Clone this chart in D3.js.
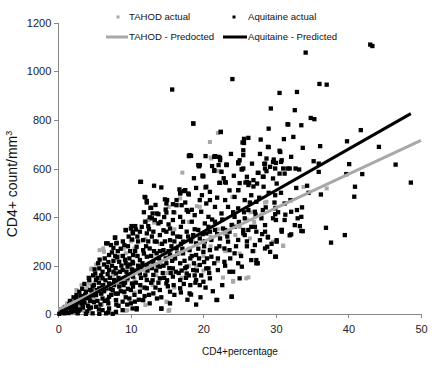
<!DOCTYPE html>
<html lang="en">
<head>
  <meta charset="UTF-8">
  <title>CD4+ count vs CD4+ percentage</title>
  <script src="https://d3js.org/d3.v7.min.js"></script>
  <style>
    body {
      margin: 0;
      background: #fff;
      font-family: "Liberation Sans", Arial, sans-serif;
    }
    .axis path, .axis line {
      stroke: #868686;
      shape-rendering: crispEdges;
    }
    .axis text {
      font-size: 11px;
      fill: #222;
    }
    .legend text {
      font-size: 9.6px;
      fill: #111;
    }
  </style>
</head>
<body>
  <div id="chart"></div>

  <script>
    // axis ticks
    const xTicks = [0, 10, 20, 30, 40, 50];
    const yTicks = [0, 200, 400, 600, 800, 1000, 1200];

    // regression lines (end points)
    const tahodLineX = [0, 50];
    const tahodLineY = [20, 716];
    const aquitaineLineX = [0, 48.6];
    const aquitaineLineY = [0, 826];

    // TAHOD actual (grey), [CD4 %, CD4 count]
    const tahodPoints = [
      [20.9,709],[22.0,746],[17.1,583],[21.1,641],[21.0,645],[22.4,590],[22.1,590],[24.0,483],[24.1,483],
      [19.5,442],[28.5,460],[28.7,463],[37.0,518],[33.8,524],[31.0,281],[31.0,283],[25.9,148],[24.1,134],
      [22.7,151],[26.2,152],[24.1,138],[15.2,14],[15.0,51],[12.0,38],[9.3,15],[9.5,17],[5.7,264],[6.2,271],
      [6.3,257],[4.6,189],[4.5,185],[13.2,377],[12.4,388],[12.1,381],[11.9,381],[16.8,477],[19.1,445],
      [15.2,442],[16.1,418],[24.4,326],[26.4,312],[29.6,299],[9.3,251],[4.27,127],[4.3,130],[9.1,86],
      [1,10],[1.5,25],[2,20],[2.5,40],[3,35],[3.5,55],[4,45],[4.5,70],[5,60],[5.5,90],[6,85],[6.5,100],
      [7,110],[7.5,95],[8,130],[8.5,120],[9,150],[9.5,140],[10,160],[10.5,145],[11,175],[11.5,190],
      [12,170],[12.5,210],[13,200],[13.5,230],[14,215],[14.5,250],[15,240],[15.5,260],[16,230],[16.5,280],
      [17,250],[17.5,300],[18,270],[18.5,310],[19,290],[19.5,330],[20,300],[21,320],[22,350],[23,330],
      [24,370],[25,360],[26,390],[27,380],[28,410],[2,55],[3,80],[3.5,15],[5,130],[6,40],[7,190],[8,60],
      [8.5,240],[9,270],[10,300],[10.5,90],[11,240],[12,310],[13,120],[14,290],[15,170],[16,350],[17,150],
      [18,380],[19,200],[20,240],[21,280],[23,260],[25,250],[2.5,100],[4,110],[6,150],[7.5,160],[11.5,110],
      [13.5,160],[16,110],[18,200],[20,180],[22,220],[27,260],[30,440],[26.5,420],[10.3,305],[14.9,52],
      [15.3,18],[10.5,271],[8.2,225],[5.2,205],[3.2,120],[1.2,45],[0.6,15]
    ];

    // Aquitaine actual (black), [CD4 %, CD4 count]
    const aquitainePoints = [
      // sparse upper points
      [43.0,1110],[43.3,1104],[34.1,1077],[24.0,968],[15.7,925],[36.0,948],[37.0,945],[30.5,911],[32.9,915],
      [29.3,847],[32.6,840],[18.6,785],[31.7,781],[33.5,778],[34.8,808],[35.3,803],[41.7,758],[22.4,751],
      [29.0,764],[32.4,730],[31.1,721],[25.6,722],[26.2,726],[27.9,719],[39.8,712],[44.2,689],[36.1,692],
      [33.7,685],[29.0,688],[25.4,707],[30.5,673],[32.1,648],[18.3,652],[20.3,651],[21.5,648],[22.1,648],
      [25.0,634],[35.2,630],[30.7,627],[30.0,623],[28.4,619],[29.7,637],[40.1,618],[46.5,616],[19.3,614],
      [23.2,615],[24.8,623],[31.0,600],[31.9,600],[32.7,600],[33.2,596],[41.9,577],[39.7,577],[35.9,586],
      [35.9,620],[25.3,597],[21.5,590],[19.9,571],[27.6,582],[28.7,589],[28.3,566],[26.0,566],[26.3,541],
      [26.9,552],[25.8,542],[23.0,544],[22.2,541],[20.3,522],[48.6,542],[36.2,493],[34.3,529],[40.9,525],
      [40.8,484],[26.9,526],[24.8,511],[30.1,538],[11.4,545],[13.2,529],[14.2,522],[16.7,514],[17.3,507],
      [16.8,500],[18.0,493],[15.8,453],[15.0,470],[12.0,481],[12.2,466],[12.8,438],[13.0,415],[14.9,419],
      [13.6,415],[12.9,395],[13.8,374],[12.0,381],[10.6,363],[9.3,347],[10.0,353],[6.8,292],[7.8,315],
      [8.0,292],[7.6,273],[36.9,356],[37.6,295],[39.5,326],[33.3,363],[33.7,342],[30.0,237],[28.9,316],
      [28.8,278],[27.5,210],[27.3,223],[23.9,73],[21.9,59],[18.3,81],[14.2,23],[10.8,25],[30.1,305],
      [30.8,347],[31.9,325],[32.9,429],[33.0,395],[33.5,401],[29.9,412],[30.0,388],
      // x 0-11, lower-left cluster
      [7.85,316],[6.6,292],[7.26,285],[8.04,294],[10.15,308],[10.24,340],[7.0,244],[7.85,240],[7.6,220],
      [8.4,216],[9.3,210],[10.24,216],[5.65,189],[5.1,168],[6.1,175],[7.0,182],[7.95,168],[8.87,182],
      [9.55,196],[10.15,185],[4.27,141],[5.2,141],[6.1,148],[7.0,127],[7.7,141],[8.64,134],[9.55,148],
      [10.15,127],[4.73,114],[5.65,107],[6.6,107],[7.5,100],[8.4,114],[9.1,93],[10.0,100],[2.9,93],
      [3.8,93],[4.27,72],[5.2,79],[6.1,65],[7.0,72],[7.95,58],[8.87,52],[9.8,65],[3.36,58],[2.44,65],
      [1.52,42],[2.44,31],[3.36,38],[4.27,24],[5.2,31],[6.1,17],[7.0,24],[7.95,10],[8.87,17],[10.24,24],
      [0.14,2],[0.83,4],[1.75,10],[2.67,4],[3.8,2],[4.73,4],[5.65,2],[6.6,4],[7.5,2],[0.5,8],[1.1,18],
      [1.8,25],[2.2,12],[3.0,20],[3.6,48],[4.0,12],[4.9,50],[5.8,40],[6.4,55],[6.9,45],[7.3,80],[8.2,85],
      [9.0,120],[9.7,160],[8.2,260],[9.6,280],[6.4,230],[5.5,210],[4.8,160],[3.1,75],[2.0,48],[1.3,30],
      [9.3,346],[10.1,363],[10.7,349],[8.9,300],[9.9,260],[6.2,120],[4.6,95],[3.0,60],[1.0,12],
      [1.4,5],[1.7,35],[2.3,22],[2.6,50],[2.8,14],[3.2,45],[3.4,28],[3.9,66],[3.7,80],[4.1,35],[4.4,55],
      [4.4,100],[4.8,78],[4.9,120],[5.3,100],[5.4,55],[5.6,130],[5.9,85],[5.9,160],[6.3,95],[6.5,140],
      [6.7,195],[6.8,60],[7.1,150],[7.2,105],[7.4,200],[7.7,120],[7.9,85],[7.9,190],[8.3,150],[8.3,35],
      [8.6,95],[8.7,200],[8.9,240],[9.2,130],[9.3,70],[9.4,175],[9.6,105],[9.8,230],[10.0,45],
      [0.4,20],[0.9,30],[1.6,55],[2.1,70],[2.5,80],[3.3,105],[3.6,125],[4.2,150],[5.0,185],[5.7,225],
      [6.3,205],[6.9,215],[7.4,255],[8.1,235],[8.6,270],[9.1,285],[9.7,320],[5.4,150],[6.0,110],
      [6.8,165],[7.6,175],[8.5,175],[9.2,225],[9.9,205],[4.5,28],[5.6,20],[6.9,8],[8.0,40],[9.5,40],
      // x 10-21, middle cluster
      [10.3,333],[11.25,340],[12.2,333],[13.1,340],[14.0,326],[14.9,340],[15.8,333],[16.8,319],[17.7,340],
      [18.6,326],[19.5,312],[20.4,333],[11.7,305],[13.55,299],[15.4,305],[17.2,299],[19.0,292],[10.8,278],
      [11.7,264],[12.6,271],[13.55,251],[14.5,264],[15.4,244],[16.3,271],[17.2,251],[18.1,264],[19.0,244],
      [20.0,257],[10.3,244],[12.2,237],[10.3,210],[11.25,223],[12.2,203],[13.1,216],[14.0,196],[14.9,210],
      [15.8,189],[16.8,210],[17.7,196],[18.6,182],[19.5,203],[20.4,189],[10.3,155],[11.25,168],[12.2,141],
      [13.1,162],[14.0,148],[14.9,127],[15.8,155],[16.8,141],[17.7,168],[19.0,141],[20.0,134],[10.3,114],
      [11.25,93],[12.2,107],[13.1,86],[14.0,100],[15.4,93],[16.8,107],[18.1,86],[19.5,120],[10.55,52],
      [10.8,20],[11.7,58],[12.6,45],[14.2,24],[15.4,45],[11.3,545],[18.0,651],[11.9,483],[12.2,460],
      [12.7,438],[16.8,497],[17.5,511],[14.7,473],[14.9,456],[14.8,431],[16.3,449],[17.0,449],[13.8,412],
      [12.6,399],[13.3,388],[16.8,401],[17.7,429],[12.4,363],[14.5,346],[15.4,353],[15.8,388],[17.2,381],
      [11.0,300],[12.9,320],[14.3,290],[16.0,300],[18.3,300],[11.4,195],[13.5,180],[16.2,175],[18.2,230],
      [12.8,130],[15.1,115],[17.3,125],[11.9,75],[13.6,65],[16.0,80],[19.6,70],
      [10.4,180],[10.5,80],[10.7,130],[10.9,240],[11.1,60],[11.4,150],[11.6,210],[11.9,110],[12.1,280],
      [12.3,180],[12.5,80],[12.8,240],[13.0,140],[13.3,300],[13.4,110],[13.7,200],[14.0,260],[14.2,70],
      [14.4,170],[14.7,300],[14.8,230],[15.0,140],[15.3,190],[15.6,280],[15.9,120],[16.1,230],[16.4,320],
      [16.6,170],[16.9,90],[17.1,270],[17.4,220],[17.6,150],[17.9,320],[18.2,120],[18.4,240],[18.8,350],
      [19.1,180],[19.3,270],[19.7,160],[19.9,330],[20.2,300],[20.5,230],[20.8,170],
      [10.9,320],[11.5,360],[11.8,420],[12.5,350],[13.4,450],[14.1,380],[14.6,400],[15.2,370],[15.9,420],
      [16.3,470],[16.9,360],[17.5,460],[18.4,430],[19.0,520],[19.8,490],[18.7,560],
      [10.6,260],[11.0,200],[11.8,250],[12.4,300],[12.9,190],[13.2,260],[13.9,230],[14.5,200],[15.2,260],
      [15.7,220],[16.4,250],[16.9,290],[17.5,190],[18.0,160],[18.7,210],[19.4,230],[20.1,280],
      [11.3,120],[12.0,160],[13.8,130],[14.6,150],[15.5,170],[17.0,180],[18.9,130],
      // x 17-33, upper-middle cluster
      [25.6,705],[28.9,689],[30.6,668],[25.5,655],[28.7,641],[29.6,627],[30.8,634],[29.2,607],[18.1,655],
      [21.6,650],[22.3,634],[23.2,616],[19.5,614],[22.1,614],[24.8,621],[25.3,596],[27.5,582],[28.5,600],
      [29.9,600],[28.2,566],[29.6,559],[31.2,579],[20.0,568],[22.3,541],[23.1,542],[26.0,545],[26.2,532],
      [27.4,538],[28.3,525],[24.8,511],[17.9,497],[20.4,525],[20.9,504],[23.0,470],[24.3,483],[25.7,470],
      [26.6,490],[27.3,463],[29.9,490],[19.5,470],[20.4,456],[21.6,442],[23.4,442],[24.8,436],[26.2,429],
      [27.1,422],[28.2,429],[29.9,436],[31.2,456],[32.1,422],[17.9,422],[18.8,408],[19.7,422],[20.7,401],
      [22.5,415],[24.3,401],[25.7,395],[28.0,395],[29.6,395],[31.2,388],[18.4,381],[20.2,374],[21.6,381],
      [23.9,367],[26.6,360],[28.5,367],[30.8,347],[32.6,367],[19.3,347],[20.9,340],[23.0,347],[25.5,333],
      [27.3,340],[18.6,785],[22.4,750],[31.6,782],[21.6,651],[22.3,644],[25.5,675],[24.8,625],[25.5,600],
      [19.4,609],[23.2,614],[28.5,620],[30.5,579],[31.6,600],[19.9,568],[21.5,593],[22.5,586],
      [20.9,470],[21.9,480],[23.6,510],[22.8,560],[24.2,570],[25.0,540],[21.2,610],[23.8,660],[26.7,620],
      [27.8,660],
      // x 20-35, lower-middle cluster
      [20.7,360],[21.6,347],[22.7,353],[23.6,340],[24.3,360],[25.5,347],[26.2,347],[27.1,360],[28.5,340],
      [28.9,319],[30.8,340],[32.1,329],[33.5,343],[21.1,306],[22.3,312],[23.4,299],[24.8,306],[25.7,326],
      [27.1,285],[28.5,271],[29.2,257],[30.1,299],[29.9,237],[20.9,264],[21.8,271],[22.9,271],[23.6,264],
      [24.3,251],[21.1,237],[22.0,230],[22.9,216],[24.8,210],[25.3,196],[26.6,223],[27.3,210],[20.7,189],
      [22.0,182],[23.6,175],[24.1,175],[25.0,148],[20.9,148],[21.8,59],[23.9,72],[20.3,110],[21.3,95],
      [22.6,120],[19.0,40],[17.8,60],[18.8,160],[20.1,215],[26.0,280],[27.8,305],
      [21.2,390],[21.5,210],[21.9,330],[22.2,280],[22.6,390],[23.0,200],[23.3,320],[23.7,230],[24.1,420],
      [24.5,280],[24.9,380],[25.2,240],[25.6,420],[26.0,300],[26.4,460],[26.8,260],[27.2,410],[27.7,480],
      [28.1,330],[28.6,440],[29.0,500],[29.4,290],[29.8,460],[30.3,420],[30.7,500],[31.3,410],[32.0,470],
      [32.8,520],[33.6,440],[34.5,500]
    ];

    const width = 436;
    const height = 392;

    const svg = d3.select("#chart")
      .append("svg")
      .attr("width", width)
      .attr("height", height)
      .style("background", "#fff");

    // scales
    const x = d3.scaleLinear().domain([0, 50]).range([58.3, 421]);
    const y = d3.scaleLinear().domain([0, 1200]).range([314.3, 22.7]);

    // axes
    svg.append("g")
      .attr("class", "axis")
      .attr("transform", `translate(${x(0)},0)`)
      .call(d3.axisLeft(y).tickValues(yTicks).tickFormat(d3.format("d"))
        .tickSize(4).tickSizeOuter(0).tickPadding(3));

    svg.append("g")
      .attr("class", "axis")
      .attr("transform", `translate(0,${y(0)})`)
      .call(d3.axisBottom(x).tickValues(xTicks).tickFormat(d3.format("d"))
        .tickSize(4).tickSizeOuter(0).tickPadding(7));

    // axis titles
    svg.append("text")
      .attr("transform", `translate(17,184) rotate(-90)`)
      .attr("text-anchor", "middle")
      .attr("font-size", 14)
      .attr("fill", "#111")
      .html("CD4+ count/mm<tspan dy='-5' font-size='9'>3</tspan>");

    svg.append("text")
      .attr("x", 240)
      .attr("y", 355)
      .attr("text-anchor", "middle")
      .attr("font-size", 10)
      .attr("fill", "#111")
      .text("CD4+percentage");

    // grey points first, black drawn on top
    const greySize = 4;
    svg.append("g")
      .selectAll("rect")
      .data(tahodPoints)
      .enter().append("rect")
      .attr("x", d => x(d[0]) - greySize / 2)
      .attr("y", d => y(d[1]) - greySize / 2)
      .attr("width", greySize)
      .attr("height", greySize)
      .attr("fill", "#a8a8a8");

    const blackSize = 4.3;
    svg.append("g")
      .selectAll("rect")
      .data(aquitainePoints)
      .enter().append("rect")
      .attr("x", d => x(d[0]) - blackSize / 2)
      .attr("y", d => y(d[1]) - blackSize / 2)
      .attr("width", blackSize)
      .attr("height", blackSize)
      .attr("fill", "#000");

    // predicted lines
    const line = d3.line().x(d => x(d[0])).y(d => y(d[1]));
    svg.append("path")
      .datum(tahodLineX.map((v, i) => [v, tahodLineY[i]]))
      .attr("d", line)
      .attr("fill", "none")
      .attr("stroke", "#a8a8a8")
      .attr("stroke-width", 3);
    svg.append("path")
      .datum(aquitaineLineX.map((v, i) => [v, aquitaineLineY[i]]))
      .attr("d", line)
      .attr("fill", "none")
      .attr("stroke", "#000")
      .attr("stroke-width", 3);

    // legend
    const legend = svg.append("g").attr("class", "legend");
    legend.append("rect").attr("x", 116.5).attr("y", 15.5).attr("width", 3).attr("height", 3).attr("fill", "#a8a8a8");
    legend.append("text").attr("x", 129).attr("y", 17).attr("dy", "0.35em").text("TAHOD actual");
    legend.append("rect").attr("x", 232.5).attr("y", 15.5).attr("width", 3).attr("height", 3).attr("fill", "#000");
    legend.append("text").attr("x", 248).attr("y", 17).attr("dy", "0.35em").text("Aquitaine actual");

    legend.append("line").attr("x1", 106).attr("x2", 128).attr("y1", 37).attr("y2", 37)
      .attr("stroke", "#a8a8a8").attr("stroke-width", 3);
    legend.append("text").attr("x", 129).attr("y", 37).attr("dy", "0.35em").text("TAHOD - Predocted");
    legend.append("line").attr("x1", 223).attr("x2", 247).attr("y1", 37).attr("y2", 37)
      .attr("stroke", "#000").attr("stroke-width", 3);
    legend.append("text").attr("x", 248).attr("y", 37).attr("dy", "0.35em").text("Aquitaine - Predicted");
  </script>
</body>
</html>
